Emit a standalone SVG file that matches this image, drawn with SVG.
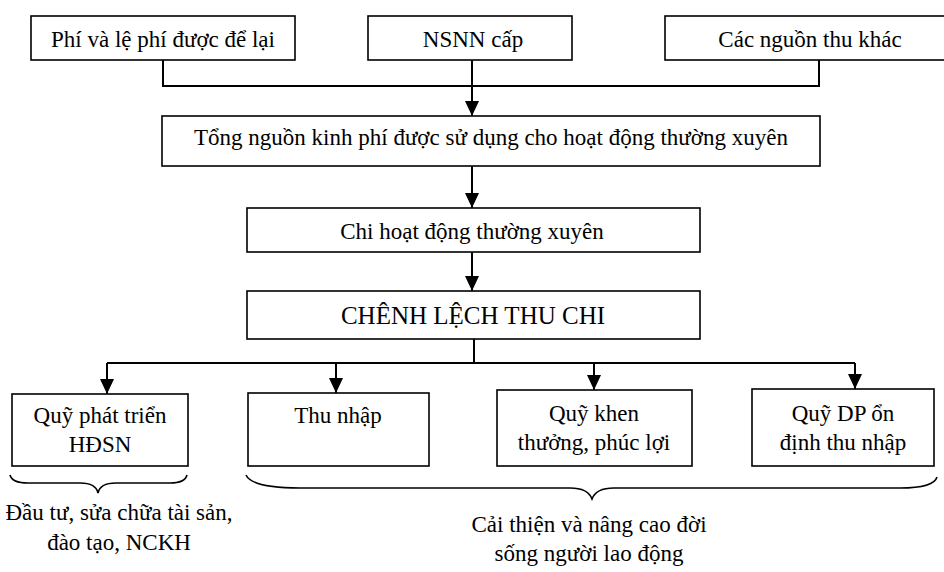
<svg xmlns="http://www.w3.org/2000/svg" width="944" height="572" viewBox="0 0 944 572">
<style>
.box{fill:#fff;stroke:#000;stroke-width:1.6}
.t{font-family:'Liberation Serif','Times New Roman','DejaVu Serif',serif;font-size:23px;fill:#000;text-anchor:middle}
.big{font-size:25px}
.ln{fill:none;stroke:#000;stroke-width:2}
.br{fill:none;stroke:#000;stroke-width:1.6}
</style>
<defs>
<marker id="ah" markerUnits="userSpaceOnUse" markerWidth="14" markerHeight="15" refX="15" refY="7" orient="auto">
<path d="M0,0 L15,7 L0,14 Z" fill="#000"/>
</marker>
</defs>
<rect width="944" height="572" fill="#fff"/>
<g id="n1"><rect class="box" x="31" y="16" width="264" height="44"/><text class="t" x="163" y="47">Phí và lệ phí được để lại</text></g>
<g id="n2"><rect class="box" x="368" y="16" width="204" height="44"/><text class="t" x="473" y="47">NSNN cấp</text></g>
<g id="n3"><rect class="box" x="665" y="16" width="285" height="44"/><text class="t" x="810" y="47">Các nguồn thu khác</text></g>
<g id="n4"><rect class="box" x="162" y="116" width="658" height="50"/><text class="t" x="491" y="145">Tổng nguồn kinh phí được sử dụng cho hoạt động thường xuyên</text></g>
<g id="n5"><rect class="box" x="247" y="208" width="453" height="44"/><text class="t" x="472" y="239">Chi hoạt động thường xuyên</text></g>
<g id="n6"><rect class="box" x="247" y="291" width="453" height="48"/><text class="t big" x="473" y="324">CHÊNH LỆCH THU CHI</text></g>
<g id="n7"><rect class="box" x="12" y="394" width="176" height="72"/><text class="t" x="100" y="423">Quỹ phát triển</text><text class="t" x="100" y="452">HĐSN</text></g>
<g id="n8"><rect class="box" x="248" y="393" width="181" height="73"/><text class="t" x="338" y="423">Thu nhập</text></g>
<g id="n9"><rect class="box" x="497" y="390" width="195" height="76"/><text class="t" x="594" y="421">Quỹ khen</text><text class="t" x="594" y="450">thưởng, phúc lợi</text></g>
<g id="n10"><rect class="box" x="752" y="389" width="182" height="77"/><text class="t" x="843" y="421">Quỹ DP ổn</text><text class="t" x="843" y="450">định thu nhập</text></g>
<g id="connectors">
<polyline class="ln" points="163,60 163,86 819,86 819,60"/>
<line class="ln" x1="472" y1="60" x2="472" y2="116" marker-end="url(#ah)"/>
<line class="ln" x1="472" y1="166" x2="472" y2="208" marker-end="url(#ah)"/>
<line class="ln" x1="472" y1="252" x2="472" y2="291" marker-end="url(#ah)"/>
<polyline class="ln" points="474,339 474,363"/>
<line class="ln" x1="107" y1="363" x2="855" y2="363"/>
<line class="ln" x1="107" y1="363" x2="107" y2="394" marker-end="url(#ah)"/>
<line class="ln" x1="336" y1="363" x2="336" y2="393" marker-end="url(#ah)"/>
<line class="ln" x1="594" y1="363" x2="594" y2="390" marker-end="url(#ah)"/>
<line class="ln" x1="855" y1="363" x2="855" y2="389" marker-end="url(#ah)"/>
</g>
<g id="braces">
<path class="br" d="M10,475 Q12,483 28,483 L80,483 Q96,483 98,493 Q100,483 116,483 L170,483 Q185,483 187,475"/>
<path class="br" d="M246,475 Q252,488 300,488 L570,488 Q588,488 592,499 Q596,488 614,488 L900,488 Q934,488 937,477"/>
</g>
<g id="notes">
<text class="t" x="119" y="520">Đầu tư, sửa chữa tài sản,</text>
<text class="t" x="119" y="550">đào tạo, NCKH</text>
<text class="t" x="589" y="532">Cải thiện và nâng cao đời</text>
<text class="t" x="589" y="561">sống người lao động</text>
</g>
</svg>
